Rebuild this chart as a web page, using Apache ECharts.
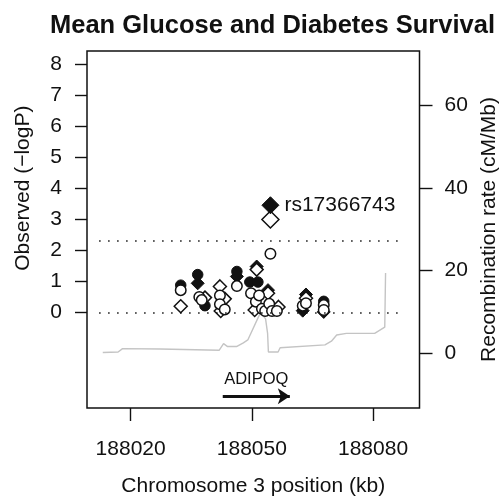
<!DOCTYPE html>
<html>
<head>
<meta charset="utf-8">
<script src="https://cdn.jsdelivr.net/npm/echarts@6/dist/echarts.min.js"></script>
<style>
  html, body { margin: 0; padding: 0; background: #fff; }
  #chart { width: 501px; height: 496px; }
</style>
</head>
<body>
<div id="chart"></div>
<script>
// positions in kb, values in -log10(P)
const filledCircles = [
    [188032.4, 0.88], [188036.6, 1.22], [188038.4, 0.22], [188046.3, 1.32],
    [188049.5, 0.98], [188051.5, 0.98], [188067.8, 0.36]
];
const filledDiamonds = [
    [188036.6, 0.94], [188046.3, 1.16], [188051.2, 1.48], [188054.0, 0.72],
    [188063.4, 0.58], [188062.6, 0.06], [188067.8, 0.02]
];
const openDiamonds = [
    [188032.4, 0.20], [188038.4, 0.48], [188042.1, 0.84], [188043.3, 0.44],
    [188042.3, 0.05], [188051.2, 1.38], [188050.7, 0.08], [188054.0, 0.62],
    [188056.6, 0.18], [188063.4, 0.46]
];
const openCircles = [
    [188032.4, 0.72], [188037.0, 0.50], [188037.6, 0.40], [188042.1, 0.55],
    [188042.1, 0.27], [188043.3, 0.10], [188046.3, 0.85], [188049.8, 0.62],
    [188051.0, 0.35], [188051.8, 0.55], [188052.5, 0.12], [188053.3, 0.05],
    [188054.3, 0.28], [188054.6, 1.89], [188055.0, 0.05], [188056.2, 0.05],
    [188062.6, 0.22], [188063.4, 0.30], [188067.8, 0.24], [188067.8, 0.08]
];
// top SNP, both analyses
const topSnpName = "rs17366743";
const topSnpFilled = [[188054.6, 3.45]];
const topSnpOpen = [[188054.6, 2.99]];

// recombination rate (cM/Mb)
const recombRate = [
    [188013.1, 0.15], [188016.9, 0.3], [188018.0, 1.1], [188027.3, 1.0],
    [188041.9, 0.7], [188043.0, 2.3], [188044.0, 1.6], [188046.2, 1.6],
    [188047.9, 2.5], [188049.0, 3.2], [188051.7, 8.9], [188052.2, 9.8],
    [188053.4, 8.3], [188053.9, 4.8], [188054.1, 0.3], [188056.5, 0.3],
    [188057.0, 1.3], [188068.1, 2.0], [188069.7, 2.9], [188071.0, 4.4],
    [188073.4, 4.8], [188080.4, 4.8], [188082.9, 6.3], [188083.1, 19.4]
];

const thresholds = [0, 2.3];
const gene = { name: "ADIPOQ", start: 188042.8, end: 188059.4 };

const xTicks = [188020, 188050, 188080];
const yTicks = [0, 1, 2, 3, 4, 5, 6, 7, 8];
const rateTicks = [0, 20, 40, 60];

const font = "'Liberation Sans', Arial, Helvetica, sans-serif";
const ink = "#111";

const chart = echarts.init(document.getElementById("chart"));

const filledStyle = { color: ink, borderColor: ink, borderWidth: 1, opacity: 1 };
const openStyle = { color: "#fff", borderColor: ink, borderWidth: 1.5, opacity: 1 };

chart.setOption({
    animation: false,
    backgroundColor: "#fff",
    title: {
        text: "Mean Glucose and Diabetes Survival",
        left: 45,
        top: 8,
        textStyle: { fontFamily: font, fontSize: 25.5, fontWeight: "bold", color: ink }
    },
    grid: {
        left: 87, right: 81.5, top: 51, bottom: 88,
        outerBoundsMode: "none",
        containLabel: false,
        show: true, borderColor: ink, borderWidth: 1.5, backgroundColor: "transparent"
    },
    xAxis: {
        type: "value",
        min: 188009.2,
        max: 188091.5,
        name: "Chromosome 3 position (kb)",
        nameLocation: "middle",
        nameGap: 68,
        nameTextStyle: { fontFamily: font, fontSize: 21, color: ink },
        axisLine: { show: false, onZero: false },
        splitLine: { show: false },
        axisTick: { show: true, length: 13, customValues: xTicks, lineStyle: { color: ink, width: 1.4 } },
        axisLabel: { customValues: xTicks, margin: 31, fontFamily: font, fontSize: 21, color: ink,
            formatter: v => String(v) }
    },
    yAxis: [
        {
            type: "value",
            min: -3.07,
            max: 8.41,
            axisLine: { show: false, onZero: false },
            splitLine: { show: false },
            axisTick: { show: true, length: 12, customValues: yTicks, lineStyle: { color: ink, width: 1.4 } },
            axisLabel: { customValues: yTicks, margin: 25, fontFamily: font, fontSize: 21, color: ink }
        },
        {
            type: "value",
            position: "right",
            min: -13.26,
            max: 73.1,
            name: "Recombination rate (cM/Mb)",
            nameLocation: "middle",
            nameRotate: 90,
            nameGap: 54,
            nameTextStyle: { fontFamily: font, fontSize: 21, color: ink },
            axisLine: { show: false, onZero: false },
            splitLine: { show: false },
            axisTick: { show: true, length: 13, customValues: rateTicks, lineStyle: { color: ink, width: 1.4 } },
            axisLabel: { customValues: rateTicks, margin: 25, fontFamily: font, fontSize: 21, color: ink }
        }
    ],
    series: [
        {
            name: "Recombination rate",
            type: "line",
            yAxisIndex: 1,
            data: recombRate,
            showSymbol: false,
            silent: true,
            lineStyle: { color: "#c4c4c4", width: 1.4 },
            z: 1
        },
        {
            name: "thresholds",
            type: "line",
            data: [],
            markLine: {
                silent: true,
                symbol: "none",
                label: { show: false },
                lineStyle: { color: ink, type: [1.5, 7.5], width: 1.5 },
                data: thresholds.map(t => [{ coord: [188012.2, t] }, { coord: [188087.4, t] }])
            },
            z: 1
        },
        {
            name: "gene",
            type: "scatter",
            data: [[(gene.start + gene.end) / 2, -2.14]],
            symbolSize: 0,
            silent: true,
            itemStyle: { opacity: 1 },
            label: {
                show: true, position: "inside", formatter: gene.name,
                fontFamily: font, fontSize: 16.5, color: ink
            },
            markLine: {
                silent: true,
                symbol: ["none", "arrow"],
                symbolSize: 12,
                label: { show: false },
                itemStyle: { color: ink },
                lineStyle: { color: ink, type: "solid", width: 3 },
                data: [[{ coord: [gene.start, -2.69] }, { coord: [gene.end, -2.69] }]]
            }
        },
        { name: "filled diamonds", type: "scatter", symbol: "diamond", symbolSize: 13, data: filledDiamonds, itemStyle: filledStyle, z: 3 },
        { name: "filled circles", type: "scatter", symbol: "circle", symbolSize: 10.5, data: filledCircles, itemStyle: filledStyle, z: 3 },
        { name: "open diamonds", type: "scatter", symbol: "diamond", symbolSize: 13, data: openDiamonds, itemStyle: openStyle, z: 4 },
        { name: "open circles", type: "scatter", symbol: "circle", symbolSize: 10.5, data: openCircles, itemStyle: openStyle, z: 4 },
        { name: "top open", type: "scatter", symbol: "diamond", symbolSize: 17, data: topSnpOpen, itemStyle: openStyle, z: 5 },
        {
            name: "top filled", type: "scatter", symbol: "diamond", symbolSize: 17, data: topSnpFilled,
            itemStyle: filledStyle, z: 5,
            label: { show: true, position: "right", distance: 5, formatter: topSnpName,
                fontFamily: font, fontSize: 21, color: ink }
        }
    ]
});

// left axis title is centred on the 0..8 range, not on the whole box
const midY = chart.convertToPixel({ yAxisIndex: 0 }, 4);
chart.setOption({
    graphic: [{
        type: "text",
        x: 23,
        y: midY,
        rotation: Math.PI / 2,
        style: {
            text: "Observed (\u2212logP)",
            font: "21px " + font,
            fill: ink,
            align: "center",
            verticalAlign: "middle"
        }
    }]
});
</script>
</body>
</html>
